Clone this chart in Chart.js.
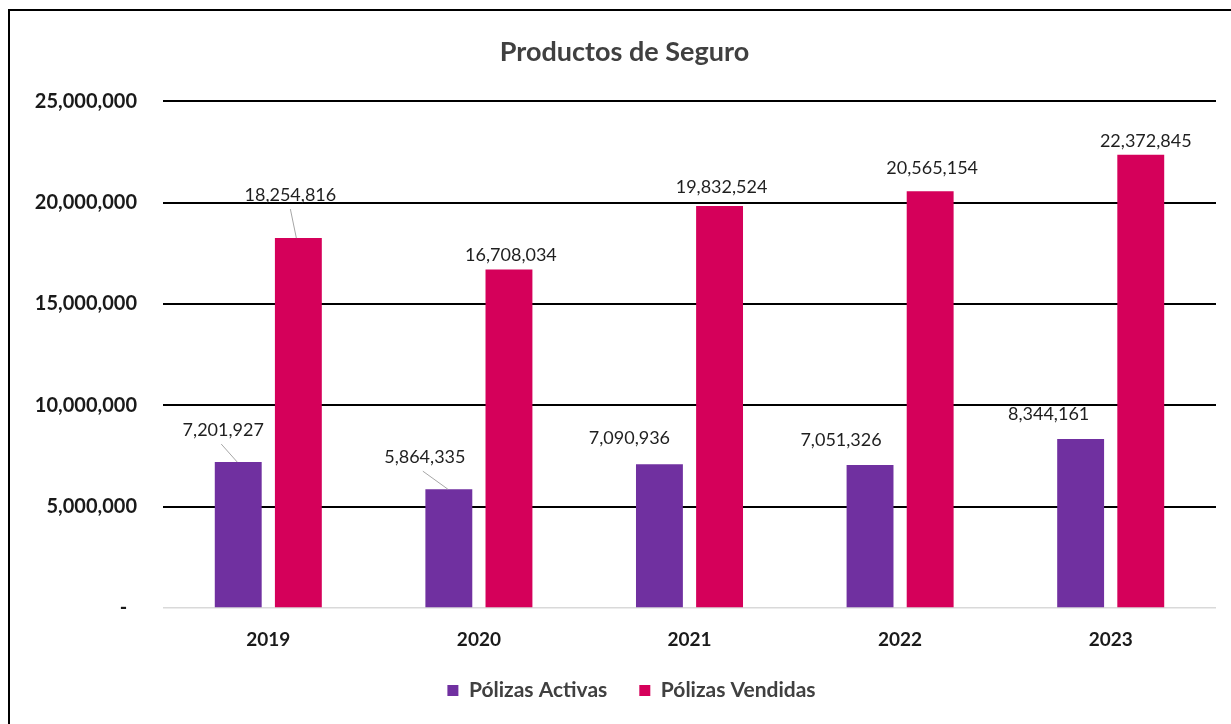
<!DOCTYPE html>
<html>
<head>
<meta charset="utf-8">
<script src="https://cdn.jsdelivr.net/npm/chart.js@4/dist/chart.umd.min.js"></script>
<style>
  html, body { margin: 0; padding: 0; background: #ffffff; }
  #wrap { position: relative; width: 1231px; height: 724px; overflow: hidden; }
  #frame { position: absolute; left: 8px; top: 9px; width: 1400px; height: 900px; border: 2px solid #000; box-sizing: border-box; }
  #c { position: absolute; left: 0; top: 0; }
</style>
</head>
<body>
<div id="wrap">
  <div id="frame"></div>
  <canvas id="c" width="1231" height="724"></canvas>
</div>
<script>
const categories = ['2019', '2020', '2021', '2022', '2023'];
const polizasActivas = [7201927, 5864335, 7090936, 7051326, 8344161];
const polizasVendidas = [18254816, 16708034, 19832524, 20565154, 22372845];
const seriesNames = ['Pólizas Activas', 'Pólizas Vendidas'];
const yTickStep = 5000000;
const yMax = 25000000;

const FONT = 'Lato, "Open Sans", "DejaVu Sans", sans-serif';

// label placement (pixel offsets relative to bar top centre), leader flag
const labelPlacement = [
  [{dx: -15, dy: -32, leader: true}, {dx: -24, dy: -32, leader: true}, {dx: -30, dy: -26}, {dx: -29, dy: -25}, {dx: -32, dy: -25}],
  [{dx: -8, dy: -43, leader: true}, {dx: 2, dy: -14}, {dx: 2, dy: -19}, {dx: 2, dy: -23}, {dx: 5, dy: -13}]
];

const fmt = v => v.toLocaleString('en-US');

const dataLabels = {
  id: 'dataLabels',
  afterDatasetsDraw(chart) {
    const ctx = chart.ctx;
    ctx.save();
    ctx.font = '18px ' + FONT;
    ctx.textAlign = 'center';
    ctx.textBaseline = 'middle';
    chart.data.datasets.forEach((ds, di) => {
      const meta = chart.getDatasetMeta(di);
      meta.data.forEach((bar, i) => {
        const p = labelPlacement[di][i];
        const lx = bar.x + p.dx, ly = bar.y + p.dy;
        if (p.leader) {
          ctx.strokeStyle = '#a6a6a6';
          ctx.lineWidth = 1;
          ctx.beginPath();
          ctx.moveTo(lx + (di === 0 ? -2 : 0), ly + 14);
          ctx.lineTo(bar.x - (di === 0 ? 1 : 2), bar.y);
          ctx.stroke();
        }
        ctx.fillStyle = '#1f1f1f';
        ctx.fillText(fmt(ds.data[i]), lx, ly);
      });
    });
    ctx.restore();
  }
};

// shift title and legend boxes to be centred like the original
const boxShift = {
  id: 'boxShift',
  afterLayout(chart) {
    if (chart.legend) { chart.legend.left += 47; }
    if (chart.titleBlock) { chart.titleBlock.left += 33; }
  }
};

new Chart(document.getElementById('c'), {
  type: 'bar',
  data: {
    labels: categories,
    datasets: [
      { label: seriesNames[0], data: polizasActivas, backgroundColor: '#7030A0', categoryPercentage: 0.571, barPercentage: 0.78 },
      { label: seriesNames[1], data: polizasVendidas, backgroundColor: '#D5005A', categoryPercentage: 0.571, barPercentage: 0.78 }
    ]
  },
  options: {
    responsive: false,
    animation: false,
    layout: { padding: { left: 0, right: 15, top: 0, bottom: 13 } },
    plugins: {
      title: {
        display: true,
        text: 'Productos de Seguro',
        color: '#404040',
        font: { family: FONT, size: 27, weight: 'bold', lineHeight: 1.2 },
        padding: { top: 36, bottom: 33 }
      },
      legend: {
        position: 'bottom',
        labels: {
          boxWidth: 11, boxHeight: 11,
          color: '#404040',
          padding: 32,
          font: { family: FONT, size: 21, weight: 'bold' }
        }
      },
      tooltip: { enabled: false }
    },
    scales: {
      x: {
        afterFit(scale) { scale.height = 40; },
        grid: { display: false, drawTicks: false },
        border: { display: false },
        ticks: { color: '#1a1a1a', padding: 20, font: { family: FONT, size: 19, weight: 'bold' } }
      },
      y: {
        min: 0, max: yMax,
        afterFit(scale) { scale.width = 163; },
        grid: {
          drawTicks: false,
          color: ctx => ctx.tick && ctx.tick.value === 0 ? '#d9d9d9' : '#000000',
          lineWidth: ctx => ctx.tick && ctx.tick.value === 0 ? 1.5 : 2
        },
        border: { display: false },
        ticks: {
          stepSize: yTickStep,
          padding: 26,
          color: '#1a1a1a',
          font: { family: FONT, size: 20, weight: 'bold' },
          callback: v => v === 0 ? '-  ' : fmt(v)
        }
      }
    }
  },
  plugins: [dataLabels, boxShift]
});
</script>
</body>
</html>
